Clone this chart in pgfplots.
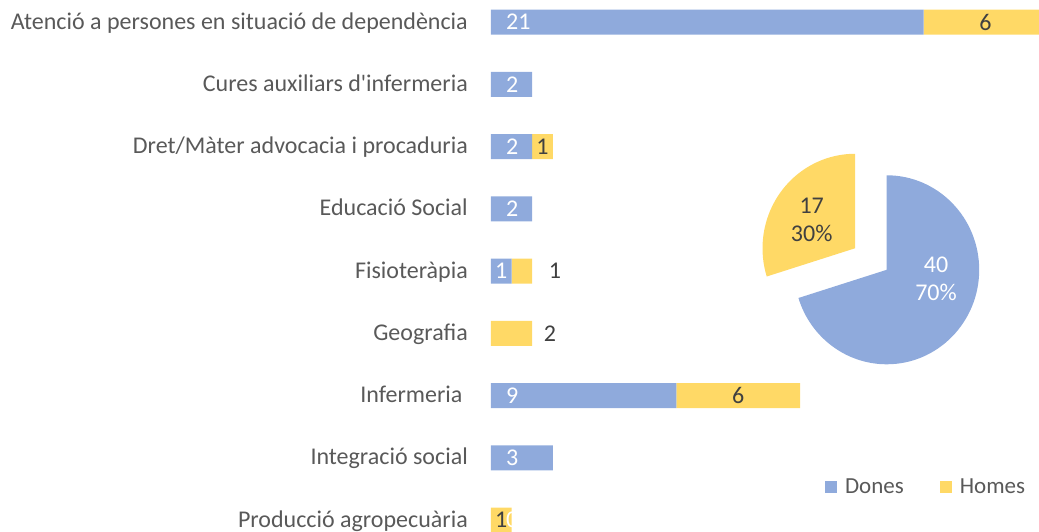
\documentclass[border=0pt]{standalone}
\usepackage{pgfplots}
\pgfplotsset{compat=1.18}
\usepackage{pgfplotstable}
\usepackage{fontspec}
\setmainfont{Carlito}
\definecolor{cblue}{HTML}{8FAADC}
\definecolor{cyel}{HTML}{FFD966}
\definecolor{ctxt}{HTML}{404040}
\definecolor{clab}{HTML}{595959}
\definecolor{cleg}{HTML}{595959}

\pgfplotstableread{
y dones homes
0 21 6
1 2 0
2 2 1
3 2 0
4 1 1
5 0 2
6 9 6
7 3 0
8 0 1
}\bardata

\pgfplotstableread{
label value
Dones 40
Homes 17
}\piedata

\tikzset{
  dlw/.style={inner sep=0pt, text=white},
  dld/.style={inner sep=0pt, text=ctxt},
}

\begin{document}
\begin{tikzpicture}[font=\fontsize{24pt}{28pt}\selectfont]
\useasboundingbox (0,0) rectangle (1039pt,532pt);
\begin{axis}[
  at={(491pt,0pt)}, anchor=south west,
  scale only axis, width=548pt, height=532pt,
  xbar stacked, bar width=25pt,
  y dir=reverse,
  xmin=0, xmax=26.6, ymin=-0.355, ymax=8.19,
  axis line style={draw=none},
  xtick=\empty,
  ytick={0,...,8},
  yticklabels={Atenció a persones en situació de dependència,
    Cures auxiliars d\textquotesingle infermeria,
    Dret/Màter advocacia i procaduria,
    Educació Social,
    Fisioteràpia,
    Geografia,
    Infermeria\hspace*{5.4pt},
    Integració social,
    Producció agropecuària},
  major tick length=0pt,
  yticklabel style={anchor=base east, inner sep=0pt, text=clab, yshift=-7pt, xshift=-23pt},
  legend style={at={(0.794,0.0846)}, anchor=center, draw=none, fill=none,
    legend columns=2, text=cleg, font=\fontsize{23pt}{28pt}\selectfont,
    /tikz/every odd column/.append style={column sep=6pt},
    /tikz/every even column/.append style={column sep=34pt}},
  legend image code/.code={\draw[#1,draw=none] (0pt,-6pt) rectangle (12pt,6pt);},
  after end axis/.code={
    % Dones labels (inside base)
    \node[dlw, anchor=west] at (axis cs:0.73,0) {21};
    \node[dlw, anchor=west] at (axis cs:0.73,1) {2};
    \node[dlw, anchor=west] at (axis cs:0.73,2) {2};
    \node[dlw, anchor=west] at (axis cs:0.73,3) {2};
    \node[dlw] at (axis cs:0.5,4) {1};
    \node[dlw, anchor=west] at (axis cs:0.73,6) {9};
    \node[dlw, anchor=west] at (axis cs:0.73,7) {3};
    % Homes labels
    \node[dld] at (axis cs:24,0) {6};
    \node[dld] at (axis cs:2.5,2) {1};
    \node[dld] at (axis cs:3.1,4) {1};
    \node[dld] at (axis cs:2.86,5) {2};
    \node[dld] at (axis cs:12,6) {6};
    \node[dld] at (axis cs:0.5,8) {1};
    \begin{scope}
      \clip (axis cs:0,7.6) rectangle (axis cs:1,8.19);
      \node[dlw, anchor=west] at (axis cs:0.73,8) {0};
    \end{scope}
  },
]
\addplot[fill=cblue, draw=none] table[x=dones, y=y] {\bardata};
\addlegendentry{Dones}
\addplot[fill=cyel, draw=none] table[x=homes, y=y] {\bardata};
\addlegendentry{Homes}
\end{axis}

% pie chart
\pgfplotstablegetelem{0}{value}\of\piedata \let\vD\pgfplotsretval
\pgfplotstablegetelem{1}{value}\of\piedata \let\vH\pgfplotsretval
\pgfmathsetmacro\angD{360*\vD/(\vD+\vH)}
\pgfmathsetmacro\endD{90-\angD}
\pgfmathsetmacro\endH{90+360-\angD}
\begin{axis}[
  at={(786.7pt,162.2pt)}, anchor=south west,
  scale only axis, width=200pt, height=200pt,
  xmin=-100, xmax=100, ymin=-100, ymax=100,
  hide axis, clip=false,
]
\fill[cblue] (axis cs:0,0) -- (axis cs:0,94.5) arc[start angle=90, end angle=\endD, x radius=92.5pt, y radius=94.5pt] -- cycle;
\fill[cyel] (axis cs:-31.7,21.5) -- ++(0pt,94.5pt) arc[start angle=90, end angle=\endH, x radius=92.5pt, y radius=94.5pt] -- cycle;
\node[dlw, align=center] at (axis cs:49.3,-9.2) {40\\70\%};
\node[dld, align=center] at (axis cs:-75,50.1) {17\\30\%};
\end{axis}
\end{tikzpicture}
\end{document}
